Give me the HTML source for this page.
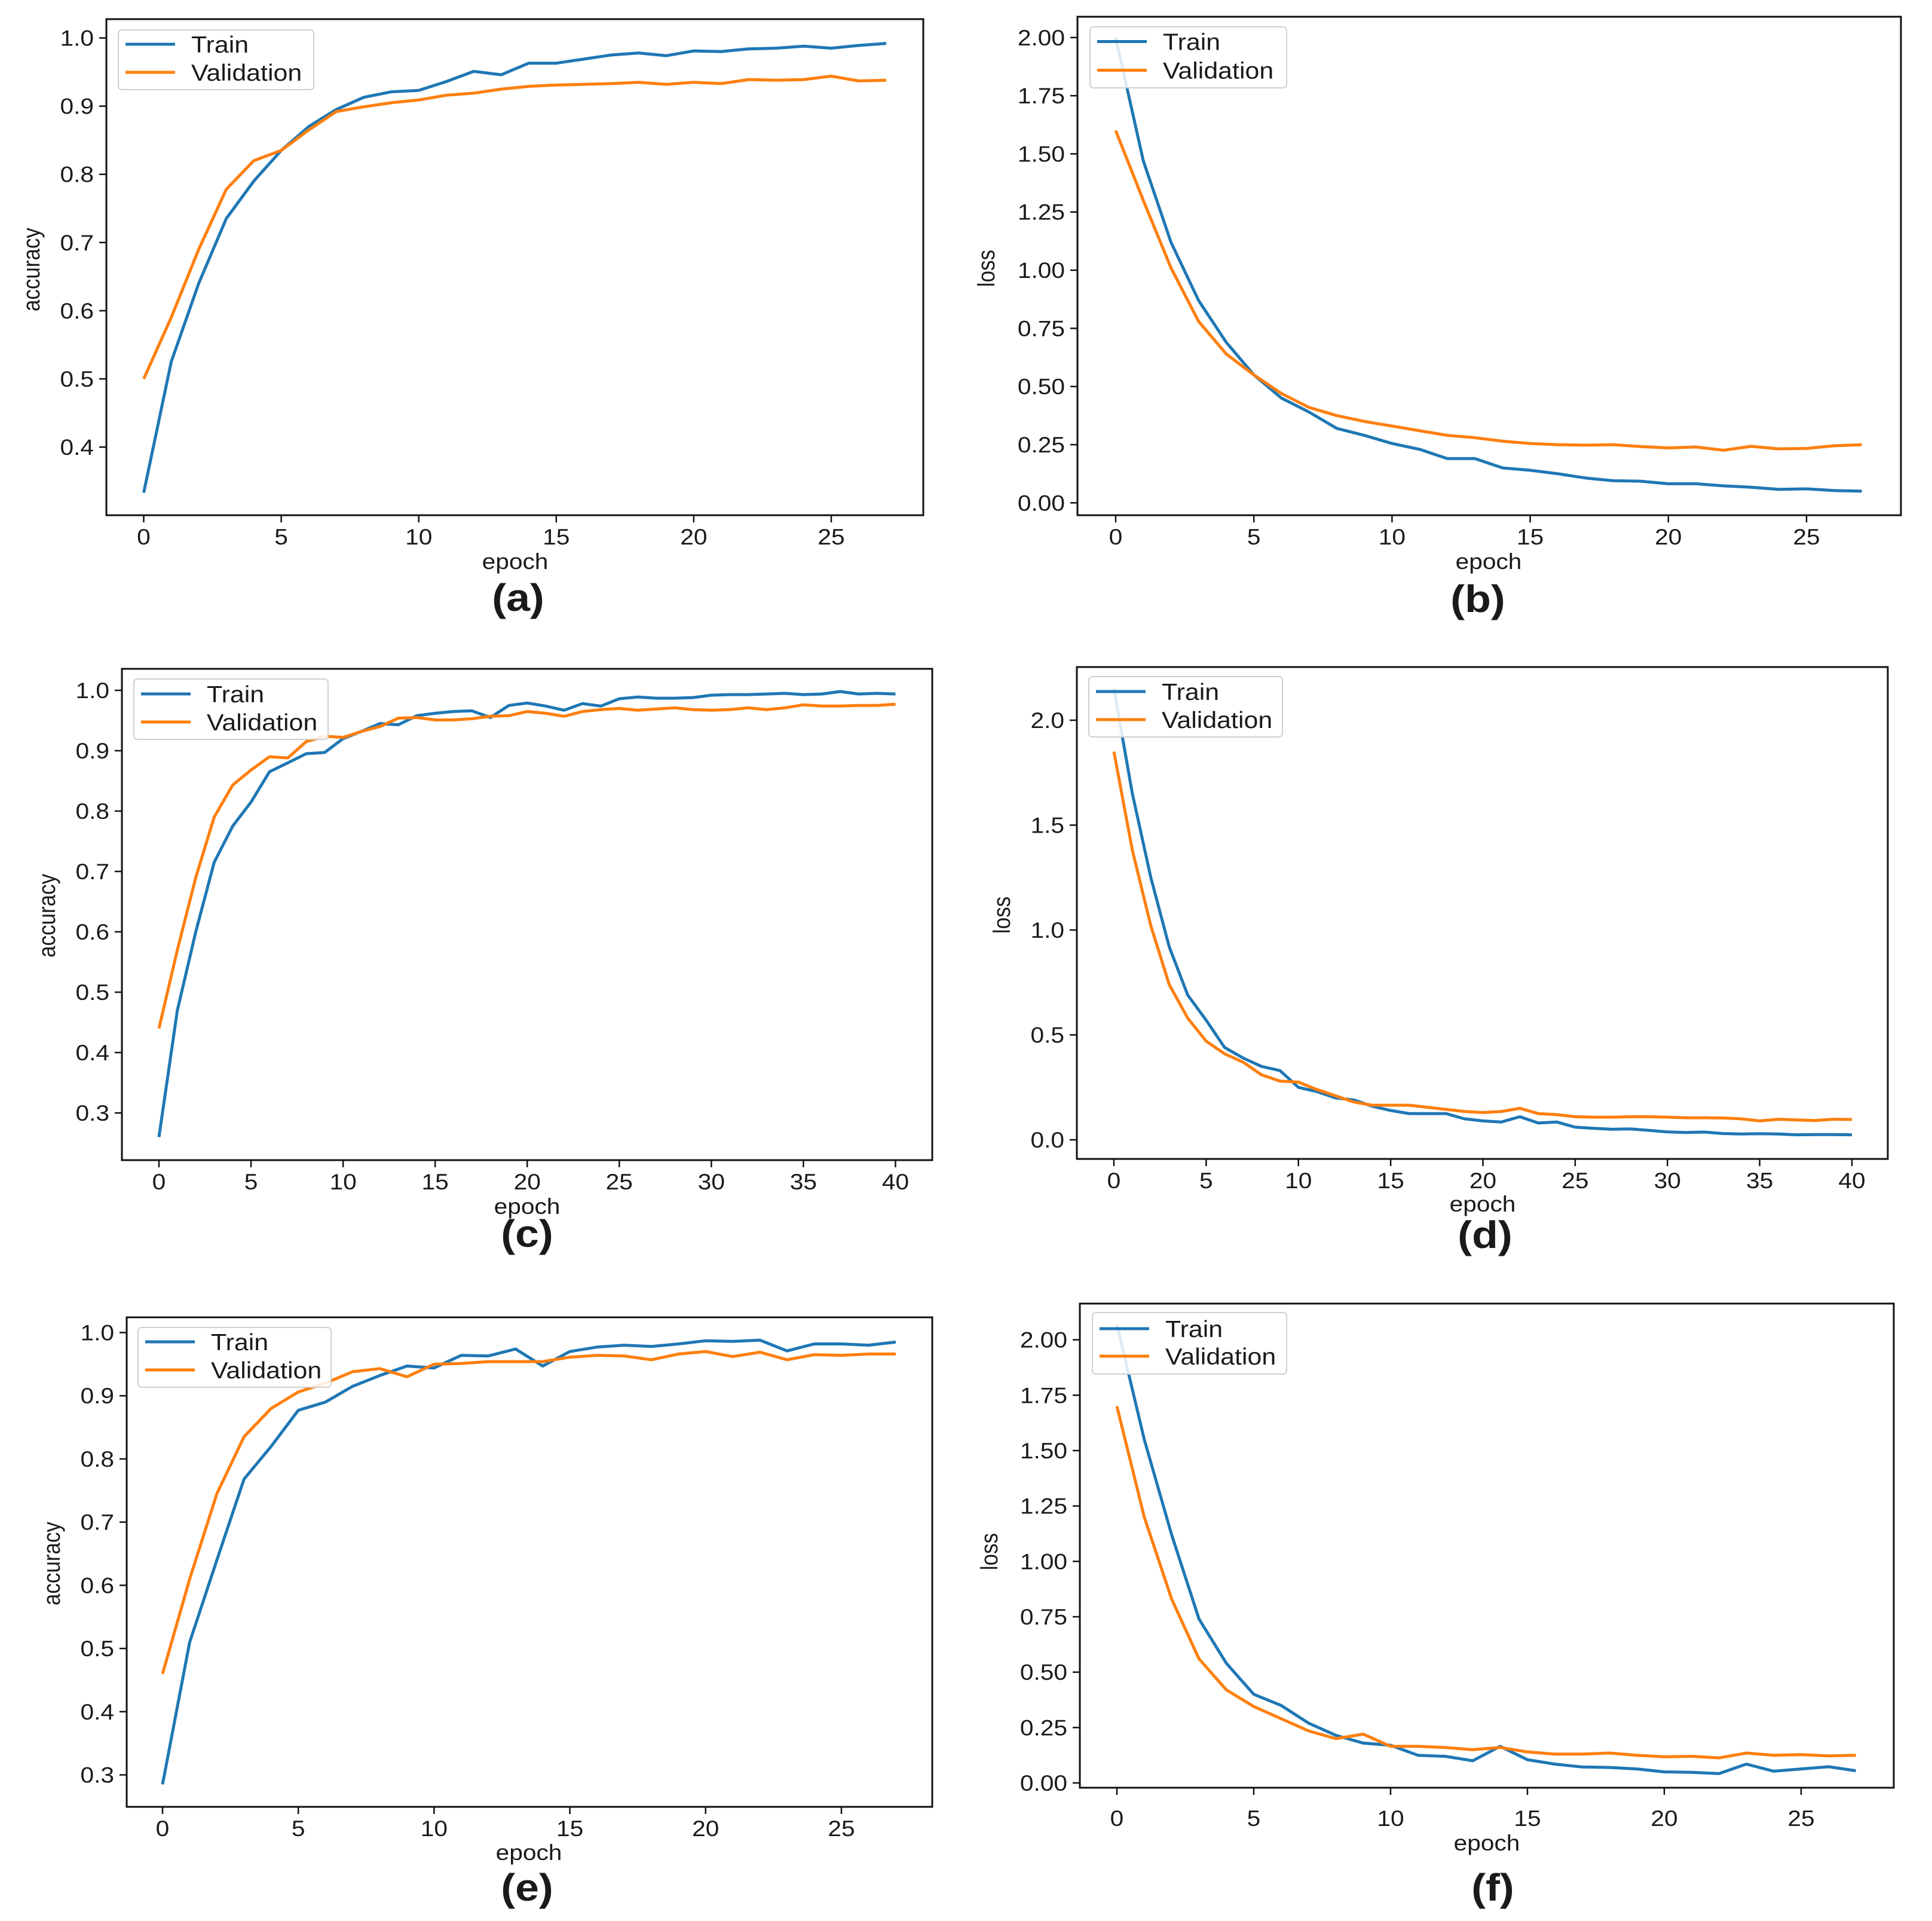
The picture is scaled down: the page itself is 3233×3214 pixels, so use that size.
<!DOCTYPE html>
<html><head><meta charset="utf-8"><style>
html,body{margin:0;padding:0;background:#fff;}
svg{display:block;}
text{font-family:"Liberation Sans","DejaVu Sans",sans-serif;fill:#1a1a1a;}
</style></head>
<body>
<svg id="fig" width="3233" height="3214" viewBox="0 0 3233 3214" xmlns="http://www.w3.org/2000/svg"></svg>
<script>
// ---- data ----
const epochs28Ticks = [0,5,10,15,20,25];
const epochs41Ticks = [0,5,10,15,20,25,30,35,40];
const accTicksA = [0.4,0.5,0.6,0.7,0.8,0.9,1.0];
const accTicksC = [0.3,0.4,0.5,0.6,0.7,0.8,0.9,1.0];
const lossTicks025 = [0,0.25,0.5,0.75,1.0,1.25,1.5,1.75,2.0];
const lossTicks05 = [0,0.5,1.0,1.5,2.0];

const aTrain = [.333,.525,.64,.735,.79,.835,.87,.895,.913,.921,.923,.936,.951,.946,.963,.963,.969,.975,.978,.974,.981,.98,.984,.985,.988,.985,.989,.992];
const aVal = [.5,.59,.69,.778,.82,.835,.865,.892,.899,.905,.909,.916,.919,.925,.929,.931,.932,.933,.935,.932,.935,.933,.939,.938,.939,.944,.937,.938];
const bTrain = [2.0,1.47,1.12,.87,.69,.55,.45,.39,.32,.29,.255,.23,.19,.19,.15,.14,.125,.107,.095,.093,.082,.082,.073,.067,.058,.06,.053,.05];
const bVal = [1.6,1.3,1.01,.78,.64,.55,.47,.41,.375,.35,.33,.31,.29,.28,.265,.255,.25,.248,.25,.242,.236,.24,.226,.243,.232,.234,.245,.25];
const cTrain = [.26,.47,.6,.715,.775,.815,.865,.88,.895,.897,.92,.932,.945,.943,.958,.962,.965,.966,.955,.975,.979,.974,.967,.978,.974,.986,.989,.987,.987,.988,.992,.993,.993,.994,.995,.993,.994,.998,.994,.995,.994];
const cVal = [.44,.57,.69,.79,.843,.868,.89,.888,.915,.924,.922,.932,.94,.954,.955,.951,.951,.953,.957,.958,.965,.962,.957,.965,.968,.97,.967,.969,.971,.968,.967,.968,.971,.968,.971,.976,.974,.974,.975,.975,.977];
const dTrain = [2.15,1.65,1.25,.92,.69,.57,.44,.39,.35,.33,.25,.23,.2,.19,.16,.14,.125,.125,.125,.1,.09,.085,.11,.08,.085,.06,.055,.05,.052,.045,.038,.035,.037,.03,.028,.029,.028,.024,.025,.025,.024];
const dVal = [1.85,1.38,1.02,.74,.58,.47,.41,.37,.31,.28,.275,.24,.21,.18,.165,.165,.165,.155,.145,.135,.13,.135,.15,.125,.12,.11,.108,.108,.11,.11,.108,.105,.105,.104,.1,.09,.098,.095,.092,.098,.097];
const eTrain = [.285,.51,.64,.768,.82,.877,.89,.915,.932,.947,.944,.964,.963,.974,.947,.97,.977,.98,.978,.982,.987,.986,.988,.971,.982,.982,.98,.985];
const eVal = [.46,.61,.745,.835,.88,.906,.92,.938,.943,.93,.95,.951,.954,.954,.954,.961,.964,.963,.957,.966,.97,.962,.969,.957,.965,.964,.966,.966];
const fTrain = [2.07,1.55,1.12,.74,.54,.4,.35,.27,.215,.18,.17,.125,.12,.1,.165,.105,.085,.072,.07,.063,.05,.048,.042,.085,.053,.063,.073,.055];
const fVal = [1.7,1.2,.83,.56,.42,.345,.29,.235,.2,.22,.165,.165,.16,.15,.16,.14,.13,.13,.135,.125,.118,.12,.113,.135,.125,.128,.122,.125];

const NS = "http://www.w3.org/2000/svg";
const svg = document.getElementById('fig');
function mk(tag, attrs, parent){
  const e = document.createElementNS(NS, tag);
  for (const k in attrs) e.setAttribute(k, attrs[k]);
  (parent||svg).appendChild(e);
  return e;
}
const SX = 1.1;
function txt(parent, s, x, y, size, anchor, extra){
  const t = mk('text', {'font-size': size, 'text-anchor': anchor,
    transform: 'translate(' + x + ',' + y + ') ' + (extra || ('scale(' + SX + ',1)'))}, parent);
  t.textContent = s;
  return t;
}

const panels = [
  {id:'a', train:aTrain, val:aVal, xt:epochs28Ticks, yt:accTicksA, ylab:'accuracy', dec:1,
   box:[178,32,1545,862], x0:240.5, x1:1391, xv1:25, yv0:1.0, yp0:63.5, yv1:0.4, yp1:748,
   leg:[198,50,525,150], lty:[74,121], ylx:54, yly:451, tly:898, ex:862, ey:950, tx:867, ty:1022},
  {id:'b', train:bTrain, val:bVal, xt:epochs28Ticks, yt:lossTicks025, ylab:'loss', dec:2,
   box:[1803,28,3181,862], x0:1867, x1:3023, xv1:25, yv0:2.0, yp0:62.8, yv1:0, yp1:841.3,
   leg:[1824,45,2153,147], lty:[69.5,117.5], ylx:1652, yly:449, tly:898, ex:2491, ey:950, tx:2473, ty:1024},
  {id:'c', train:cTrain, val:cVal, xt:epochs41Ticks, yt:accTicksC, ylab:'accuracy', dec:1,
   box:[204,1119,1560,1941], x0:266, x1:1498.5, xv1:40, yv0:1.0, yp0:1155, yv1:0.3, yp1:1862,
   leg:[224,1136,549,1237], lty:[1161,1208], ylx:80, yly:1532, tly:1977, ex:882, ey:2029, tx:882, ty:2086},
  {id:'d', train:dTrain, val:dVal, xt:epochs41Ticks, yt:lossTicks05, ylab:'loss', dec:1,
   box:[1802,1116,3159,1939], x0:1864, x1:3099, xv1:40, yv0:2.0, yp0:1205, yv1:0, yp1:1907,
   leg:[1822,1132,2146,1233], lty:[1157,1204], ylx:1678, yly:1531, tly:1975, ex:2481, ey:2025, tx:2485, ty:2088},
  {id:'e', train:eTrain, val:eVal, xt:epochs28Ticks, yt:accTicksC, ylab:'accuracy', dec:1,
   box:[212,2204,1560,3023], x0:272, x1:1408, xv1:25, yv0:1.0, yp0:2229.5, yv1:0.3, yp1:2969.5,
   leg:[231,2221,554,2321], lty:[2245,2292], ylx:88, yly:2616, tly:3059, ex:885, ey:3110, tx:882, ty:3180},
  {id:'f', train:fTrain, val:fVal, xt:epochs28Ticks, yt:lossTicks025, ylab:'loss', dec:2,
   box:[1807,2181,3169,2991], x0:1869, x1:3014, xv1:25, yv0:2.0, yp0:2241.6, yv1:0, yp1:2983,
   leg:[1828,2196,2153,2299], lty:[2223,2269], ylx:1657, yly:2596, tly:3042, ex:2488, ey:3094, tx:2498, ty:3180}
];

panels.forEach(p => {
  const g = mk('g', {});
  
  
  const xs = v => p.x0 + (v / p.xv1) * (p.x1 - p.x0);
  const ys = v => p.yp0 + (v - p.yv0) / (p.yv1 - p.yv0) * (p.yp1 - p.yp0);
  const [L,T,R,B] = p.box;

  [['train', p.train, '#1f77b4'], ['validation', p.val, '#ff7f0e']].forEach(([nm, arr, col]) => {
    const pts = arr.map((v,i) => xs(i).toFixed(1) + ',' + ys(v).toFixed(1)).join(' ');
    const pl = mk('polyline', {points: pts, fill:'none', stroke: col, 'stroke-width': 5, 'stroke-linejoin':'round'}, g);
    
    
  });

  const fr = mk('rect', {x:L, y:T, width:R-L, height:B-T, fill:'none', stroke:'#111', 'stroke-width':3}, g);
  
  

  p.xt.forEach(v => {
    const x = xs(v);
    mk('line', {x1:x, x2:x, y1:B, y2:B+12, stroke:'#111', 'stroke-width':2.5}, g);
    const t = txt(g, String(v), x, p.tly + 13, 37, 'middle');
    
    
  });
  p.yt.forEach(v => {
    const y = ys(v);
    mk('line', {x1:L-12, x2:L, y1:y, y2:y, stroke:'#111', 'stroke-width':2.5}, g);
    const t = txt(g, v.toFixed(p.dec), L - 21, y + 13, 37, 'end');
    
    
  });

  const xl = txt(g, 'epoch', p.ex, p.ey + 2, 37, 'middle');
  
  
  const yl = txt(g, p.ylab, p.ylx + 12, p.yly, 35, 'middle', 'rotate(-90) scale(1,1.15)');
  
  

  const [lx0, ly0, lx1, ly1] = p.leg;
  const lg = mk('g', {}, g);
  
  
  mk('rect', {x:lx0, y:ly0, width:lx1-lx0, height:ly1-ly0, rx:6, fill:'#fff', 'fill-opacity':0.85, stroke:'#d0d0d0', 'stroke-width':2}, lg);
  [['Train', '#1f77b4', p.lty[0]], ['Validation', '#ff7f0e', p.lty[1]]].forEach(([lab, col, y]) => {
    mk('line', {x1:lx0+12, x2:lx0+95, y1:y, y2:y, stroke:col, 'stroke-width':5}, lg);
    const t = txt(lg, lab, lx0 + 122, y + 14, 39, 'start');
    
    
  });

  const tt = txt(g, '(' + p.id + ')', p.tx, p.ty, 64, 'middle', 'scale(1.12,1)');
  tt.setAttribute('font-weight', 'bold');
  
  
});
</script>
</body></html>
